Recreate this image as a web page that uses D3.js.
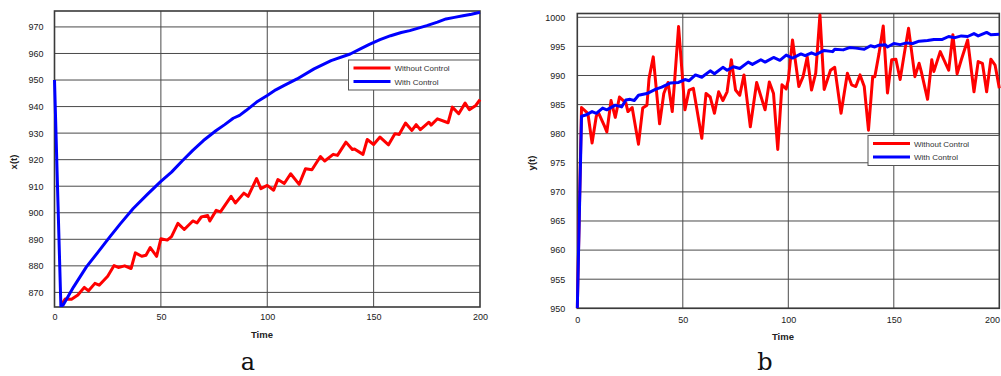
<!DOCTYPE html>
<html>
<head>
<meta charset="utf-8">
<script src="https://cdn.jsdelivr.net/npm/d3@7"></script>
<style>
  html, body { margin: 0; padding: 0; background: #fff; }
  svg { display: block; }
</style>
</head>
<body>
<svg id="chart" width="1001" height="376"></svg>
<script>
// ---- data: panel a, x(t) ----
const xWithoutTime = [3, 5, 8, 11, 14, 16, 19, 21, 25, 28, 30, 33, 36, 38, 41, 43, 45, 48, 50, 53, 55, 58, 61, 65, 67, 69, 72, 73, 76, 78, 83, 85, 89, 91, 95, 97, 100, 103, 105, 108, 111, 115, 118, 121, 125, 127, 131, 133, 137, 140, 141, 145, 147, 150, 153, 157, 160, 162, 165, 168, 170, 172, 176, 177, 180, 185, 187, 190, 193, 195, 198, 200];
const xWithoutValue = [865, 867.5, 867.4, 869, 871.9, 870.6, 873.4, 872.7, 876.1, 880.1, 879.4, 880, 879, 884.9, 883.6, 884, 886.9, 883.6, 890.2, 889.7, 891, 896, 893.7, 896.9, 896.2, 898.4, 899, 896.9, 900.9, 900.3, 906.2, 903.7, 907.4, 906.2, 912.9, 909.1, 910.3, 908.5, 912.5, 911, 914.7, 910.7, 916.6, 916.2, 921.2, 919.5, 922, 921.6, 926.6, 923.8, 924, 922, 927.6, 925.7, 928.5, 925.6, 929.8, 929.5, 933.8, 931, 933.2, 931.3, 934.1, 933, 935.4, 933.9, 939.8, 937.3, 941.3, 938.8, 940.4, 942.6];

const xWithTime = [0, 3, 4, 9, 15, 20, 26, 31, 37, 44, 50, 55, 60, 65, 70, 76, 80, 84, 87, 90, 95, 100, 104, 108, 114, 122, 130, 139, 144, 148, 153, 158, 163, 167, 175, 180, 184, 188, 192, 196, 200];
const xWithValue = [950, 864.8, 865.2, 872.1, 879.6, 884.7, 890.9, 895.9, 901.6, 907.2, 911.8, 915.3, 919.5, 923.5, 927.2, 931, 933.2, 935.6, 936.7, 938.5, 941.7, 944.2, 946.3, 948, 950.4, 954.2, 957.3, 959.8, 961.8, 963.4, 965.2, 966.7, 967.9, 968.6, 970.5, 971.8, 973, 973.6, 974.2, 974.8, 975.5];

// ---- data: panel b, y(t) ----
const yWithoutTime = [0, 2, 5, 7, 9, 10, 13, 14, 16, 18, 20, 23, 24, 26, 29, 31, 33, 34, 36, 39, 41, 43, 45, 46, 48, 51, 53, 55, 59, 61, 63, 65, 67, 69, 71, 73, 75, 77, 79, 82, 85, 89, 91, 93, 95, 97, 99, 100, 102, 105, 107, 109, 111, 113, 115, 117, 120, 122, 125, 128, 130, 132, 134, 136, 138, 140, 141, 143, 145, 147, 149, 151, 153, 155, 157, 160, 162, 163, 166, 168, 169, 172, 176, 178, 180, 182, 185, 188, 190, 192, 194, 196, 198, 200];
const yWithoutValue = [950, 984.5, 983.5, 978.4, 983.0, 983.6, 981.2, 980.3, 985.7, 982.8, 986.3, 985.3, 983.8, 984.5, 978.2, 984.4, 984.9, 989.5, 993.2, 981.7, 986.9, 988.8, 983.8, 988.5, 998.4, 984.1, 987.5, 987.8, 979.2, 986.9, 986.3, 983.5, 987.2, 985.7, 987.2, 992.7, 987.5, 986.6, 990.1, 981.2, 988.8, 984.1, 988.9, 986.9, 977.3, 988.4, 987.7, 989.2, 996.1, 988.1, 989.8, 993.2, 987.5, 990.4, 1000.4, 987.6, 990.9, 991.4, 983.5, 990.4, 988.4, 988.1, 990.1, 988.1, 980.6, 989.8, 989.8, 993.8, 998.5, 987.0, 992.7, 992.8, 989.3, 993.8, 998.1, 989.8, 992.1, 990.7, 985.9, 992.7, 990.7, 994.1, 990.9, 997.0, 990.3, 992.7, 996.1, 987.2, 992.4, 992.1, 987.2, 992.8, 991.8, 987.8];

const yWithTime = [0, 2, 4, 7, 9, 12, 14, 18, 21, 23, 25, 27, 29, 33, 37, 40, 44, 48, 51, 53, 56, 59, 63, 65, 69, 71, 74, 77, 81, 83, 87, 89, 93, 96, 99, 102, 106, 108, 111, 113, 117, 121, 122, 126, 129, 132, 136, 139, 141, 143, 146, 147, 150, 153, 156, 159, 162, 166, 169, 173, 176, 179, 182, 185, 188, 190, 194, 196, 200];
const yWithValue = [950, 983.0, 983.2, 983.8, 983.5, 984.4, 984.1, 984.9, 984.6, 985.8, 985.9, 985.7, 986.6, 986.9, 987.6, 988, 988.7, 988.8, 989.3, 989.1, 990.1, 989.7, 990.8, 990.3, 991.4, 990.9, 991.5, 991.2, 992.3, 991.9, 992.7, 992.3, 993.1, 992.6, 993.5, 993.0, 993.7, 993.4, 993.9, 993.6, 994.3, 994.1, 994.5, 994.4, 994.8, 994.7, 994.5, 995.1, 994.9, 995.2, 995.3, 994.9, 995.5, 995.3, 995.6, 995.5, 995.9, 996.0, 996.2, 996.2, 996.7, 996.5, 996.8, 996.7, 997.2, 996.8, 997.4, 997.0, 997.1];

// ---- axis ticks and labels ----
const timeTicks = [0, 50, 100, 150, 200];
const xTicks = [870, 880, 890, 900, 910, 920, 930, 940, 950, 960, 970];
const yTicks = [950, 955, 960, 965, 970, 975, 980, 985, 990, 995, 1000];
const seriesNames = ["Without Control", "With Control"];
const seriesColors = ["#ff0000", "#0000ff"];

const SANS = "'Liberation Sans', Arial, sans-serif";
const SERIF = "'DejaVu Serif', 'Liberation Serif', serif";

const svg = d3.select("#chart");
const svgWidth = +svg.attr("width");

function zip(ts, vs) { return ts.map((t, i) => [t, vs[i]]); }

function drawPanel(opt) {
  const g = svg.append("g");
  const x = d3.scaleLinear().domain([0, 200]).range([opt.left, opt.right]);
  const y = d3.scaleLinear().domain(opt.yDomain).range([opt.bottom, opt.top]);

  // grid lines
  g.selectAll(".hg").data(opt.yTicks).join("line")
    .attr("x1", opt.left).attr("x2", opt.right)
    .attr("y1", d => y(d)).attr("y2", d => y(d))
    .attr("stroke", "#4a4a4a").attr("stroke-width", 1);
  g.selectAll(".vg").data(timeTicks.filter(d => d > 0 && d < 200)).join("line")
    .attr("x1", d => x(d)).attr("x2", d => x(d))
    .attr("y1", opt.top).attr("y2", opt.bottom)
    .attr("stroke", "#4a4a4a").attr("stroke-width", 1);

  // plot frame
  g.append("rect")
    .attr("x", opt.left).attr("y", opt.top)
    .attr("width", opt.right - opt.left).attr("height", opt.bottom - opt.top)
    .attr("fill", "none").attr("stroke", "#3a3a3a").attr("stroke-width", 1.6);

  // tick labels via d3 axes (domain and tick lines hidden)
  const ax = g.append("g").attr("transform", `translate(0,${opt.bottom})`)
    .call(d3.axisBottom(x).tickValues(timeTicks).tickSize(0).tickPadding(opt.xPad));
  const ay = g.append("g").attr("transform", `translate(${opt.left},0)`)
    .call(d3.axisLeft(y).tickValues(opt.yTicks).tickSize(0).tickPadding(opt.yPad).tickFormat(d3.format("d")));
  [ax, ay].forEach(a => {
    a.select(".domain").remove();
    a.selectAll("text").style("font-family", SANS)
      .style("font-size", "9px").attr("fill", "#1a1a1a");
  });
  // keep the last time label inside the page
  ax.selectAll("text").each(function () {
    const b = this.getBoundingClientRect();
    if (b.right > svgWidth - 1) {
      d3.select(this).attr("dx", (svgWidth - 1 - b.right) + "px");
    }
  });

  // series lines
  const line = d3.line().x(d => x(d[0])).y(d => y(d[1]));
  const clipId = "clip" + opt.id;
  g.append("clipPath").attr("id", clipId).append("rect")
    .attr("x", opt.left - 2).attr("y", opt.top - 1)
    .attr("width", opt.right - opt.left + 4).attr("height", opt.bottom - opt.top + 1);
  opt.series.forEach((s, i) => {
    g.append("path").datum(s)
      .attr("clip-path", `url(#${clipId})`)
      .attr("d", line).attr("fill", "none")
      .attr("stroke", seriesColors[i]).attr("stroke-width", 3)
      .attr("stroke-linejoin", "round").attr("stroke-linecap", "butt");
  });

  // axis titles
  g.append("text").attr("x", opt.timeLabelX).attr("y", opt.timeLabelY)
    .attr("text-anchor", "middle").style("font-family", SANS).style("font-size", "9.5px")
    .style("font-weight", "bold").attr("fill", "#222").text("Time");
  g.append("text")
    .attr("transform", `translate(${opt.yLabelX},${opt.yLabelY}) rotate(-90)`)
    .attr("text-anchor", "middle").style("font-family", SANS).style("font-size", "9.5px")
    .style("font-weight", "bold").attr("fill", "#222").text(opt.yLabel);

  // legend
  const lg = g.append("g").attr("transform", `translate(${opt.legendX},${opt.legendY})`);
  lg.append("rect").attr("width", 131).attr("height", 30)
    .attr("fill", "#fff").attr("stroke", "#555").attr("stroke-width", 1);
  seriesNames.forEach((name, i) => {
    const yy = 8 + i * 13.5;
    lg.append("line").attr("x1", 5).attr("x2", 42).attr("y1", yy).attr("y2", yy)
      .attr("stroke", seriesColors[i]).attr("stroke-width", 3);
    lg.append("text").attr("x", 46).attr("y", yy + 3)
      .style("font-family", SANS).style("font-size", "8px")
      .attr("fill", "#333").text(name);
  });

  // panel letter
  svg.append("text").attr("x", opt.letterX).attr("y", 370)
    .attr("text-anchor", "middle")
    .style("font-family", SERIF).style("font-size", "24px")
    .attr("fill", "#111").text(opt.letter);
}

drawPanel({
  id: "a", left: 54.5, right: 480, top: 11, bottom: 307,
  yDomain: [864.5, 976], yTicks: xTicks, xPad: 7, yPad: 11,
  series: [zip(xWithoutTime, xWithoutValue), zip(xWithTime, xWithValue)],
  yLabel: "x(t)", yLabelX: 17, yLabelY: 162,
  timeLabelX: 262, timeLabelY: 338,
  legendX: 348.5, legendY: 60,
  letter: "a", letterX: 248
});

drawPanel({
  id: "b", left: 577.3, right: 999.3, top: 13.5, bottom: 308.3,
  yDomain: [950, 1000.65], yTicks: yTicks, xPad: 8, yPad: 12,
  series: [zip(yWithoutTime, yWithoutValue), zip(yWithTime, yWithValue)],
  yLabel: "y(t)", yLabelX: 535, yLabelY: 163,
  timeLabelX: 783, timeLabelY: 340,
  legendX: 868, legendY: 135.5,
  letter: "b", letterX: 765
});
</script>
</body>
</html>
